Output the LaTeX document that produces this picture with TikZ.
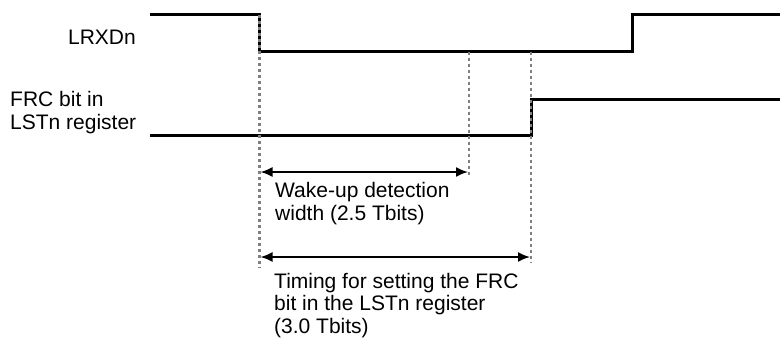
\documentclass[tikz,border=0pt]{standalone}
\usepackage{fontspec}
\setmainfont{Liberation Sans}
\usetikzlibrary{arrows.meta}
\begin{document}
\begin{tikzpicture}[x=1pt,y=-1pt,
  signal/.style={line width=3pt,line join=miter},
  guide/.style={draw=black!50,line width=2.5pt,dash pattern=on 3.5pt off 2.5pt},
  dim/.style={line width=1.8pt,{Latex[length=12pt,width=10pt]}-{Latex[length=12pt,width=10pt]}},
  lbl/.style={inner sep=0pt,font=\fontsize{21}{22.5}\selectfont,align=left}]
\useasboundingbox (0,0) rectangle (780,338);
% key coordinates
\coordinate (a0) at (150,14.5);
\coordinate (a1) at (259.5,14.5);
\coordinate (a2) at (259.5,51.5);
\coordinate (a3) at (632,51.5);
\coordinate (a4) at (632,14.5);
\coordinate (a5) at (780,14.5);
\coordinate (b0) at (150,135);
\coordinate (b1) at (531,135);
\coordinate (b2) at (531,99.5);
\coordinate (b3) at (780,99.5);
% signals
\draw[signal] (a0) -- (a1) -- (a2) -- (a3) -- (a4) -- (a5);
\draw[signal] (b0) -- (b1) -- (b2) -- (b3);
% guides
\coordinate (g1t) at (259.5,14.5);
\coordinate (g1b) at (259.5,268);
\coordinate (g2t) at (469,51.5);
\coordinate (g2b) at (469,175);
\coordinate (g3t) at (531,51.5);
\coordinate (g3b) at (531,262);
\draw[guide] (g1t) -- (g1b);
\draw[guide] (g2t) -- (g2b);
\draw[guide] (g3t) -- (g3b);
% dimension arrows
\coordinate (d1l) at (260.5,172);
\coordinate (d1r) at (468,172);
\coordinate (d2l) at (260.5,257);
\coordinate (d2r) at (530,257);
\draw[dim] (d1l) -- (d1r);
\draw[dim] (d2l) -- (d2r);
% labels (base anchor = last line baseline)
\node[lbl,anchor=base east] (lrxd) at (136,44.5) {LRXDn};
\node[lbl,anchor=base west] (frc) at (10,129) {FRC bit in\\LSTn register};
\node[lbl,anchor=base west] (wake) at (275,220) {Wake-up detection\\width (2.5 Tbits)};
\node[lbl,anchor=base west] (timing) at (274,333) {Timing for setting the FRC\\bit in the LSTn register\\(3.0 Tbits)};
\end{tikzpicture}
\end{document}
